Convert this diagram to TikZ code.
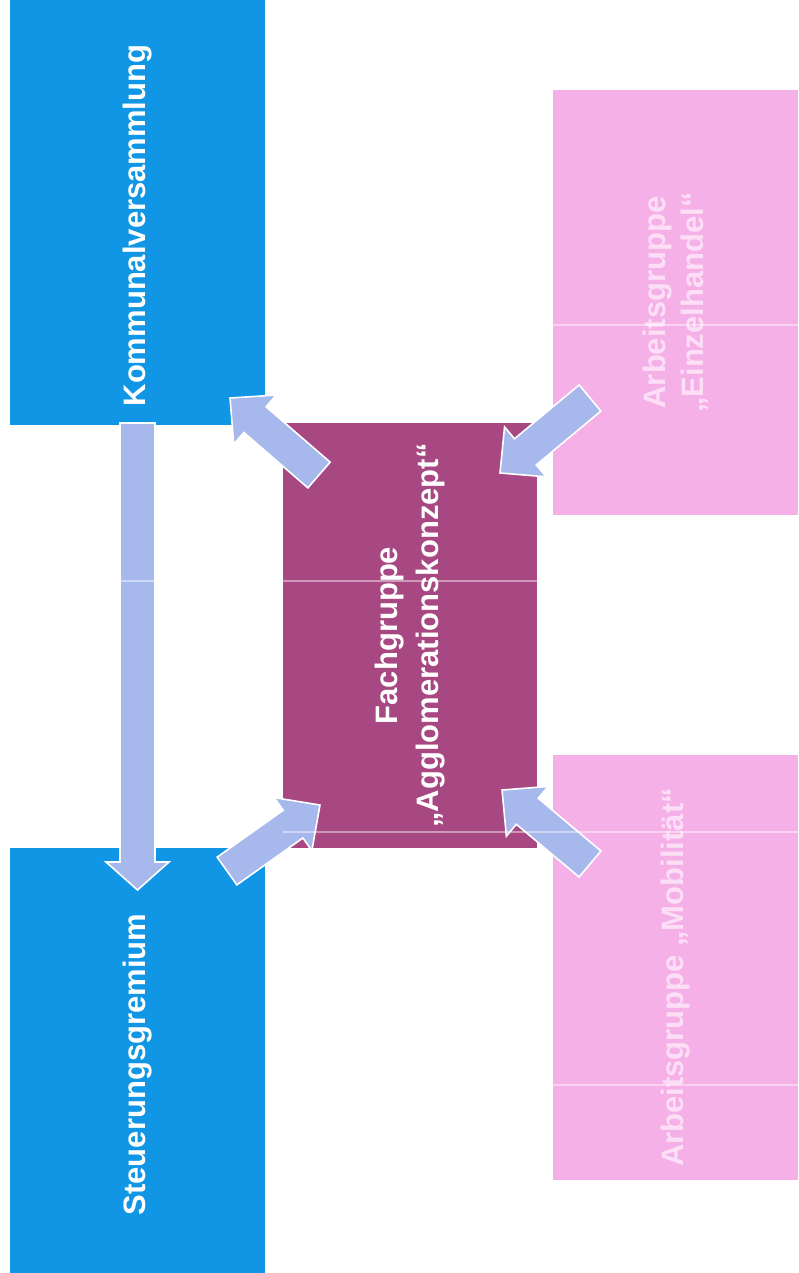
\documentclass[tikz,border=0pt]{standalone}
\usepackage{fontspec}
\setmainfont{Liberation Sans}
\usetikzlibrary{calc}
\definecolor{kblue}{RGB}{16,150,228}
\definecolor{fmag}{RGB}{168,72,130}
\definecolor{apink}{RGB}{246,176,232}
\definecolor{aarrow}{RGB}{166,184,236}
\definecolor{ptext}{RGB}{252,222,246}

\tikzset{
  box/.style={rotate=90, inner sep=0pt, align=center, text=white,
    font=\fontsize{31}{38}\selectfont\bfseries,
    minimum width=425pt},
  bluebox/.style={box, fill=kblue, minimum height=255pt},
  magbox/.style={box, fill=fmag, minimum height=254pt, font=\fontsize{31}{41}\selectfont\bfseries},
  pinkbox/.style={box, fill=apink, minimum height=245pt, text=ptext},
  barrow/.style={fill=aarrow, draw=white, line width=1.6pt, line join=miter},
  fold/.style={draw=white, opacity=0.45, line width=1.5pt}
}

\newcommand{\blockarrow}[5]{% tail, tip, shaft width, head width, head length
  \path let \p1=($(#2)-(#1)$) in \pgfextra{%
    \pgfmathsetmacro\baang{atan2(\y1,\x1)}%
    \pgfmathsetmacro\balen{veclen(\x1,\y1)}%
    \xdef\baangG{\baang}\xdef\balenG{\balen}};
  \begin{scope}[shift={(#1)}, rotate=\baangG, x=1pt, y=1pt]
    \draw[barrow] (0,-#3/2) -- ({\balenG-#5},-#3/2) -- ({\balenG-#5},-#4/2)
      -- (\balenG,0) -- ({\balenG-#5},#4/2) -- ({\balenG-#5},#3/2)
      -- (0,#3/2) -- cycle;
  \end{scope}}

\begin{document}
\begin{tikzpicture}[x=1pt, y=-1pt]
  \fill[white] (0,0) rectangle (798,1273);
  \useasboundingbox (0,0) rectangle (798,1273);

  % boxes
  \node[bluebox] (kv) at (137.5,212.5) {\hspace*{-26pt}Kommunalversammlung};
  \node[bluebox] (sg) at (137.5,1060.5) {\hspace*{-8pt}Steuerungsgremium};
  \node[magbox]  (fg) at (410,635.5) {Fachgruppe\\„Agglomerationskonzept“};
  \node[pinkbox] (ae) at (675.5,302.5) {Arbeitsgruppe\\„Einzelhandel“};
  \node[pinkbox] (am) at (675.5,967.5) {\hspace*{-20pt}Arbeitsgruppe „Mobilität“};

  % arrow end points
  \coordinate (v0) at (137.5,423);
  \coordinate (v1) at (137.5,890);
  \coordinate (a1s) at (319,475);
  \coordinate (a1e) at (230,398);
  \coordinate (a2s) at (590,398);
  \coordinate (a2e) at (500,473);
  \coordinate (a3s) at (227,871);
  \coordinate (a3e) at (320,805);
  \coordinate (a4s) at (590,864);
  \coordinate (a4e) at (502,790);

  % block arrows
  \blockarrow{v0}{v1}{35}{63}{28}
  \blockarrow{a1s}{a1e}{34}{65}{33}
  \blockarrow{a2s}{a2e}{34}{65}{33}
  \blockarrow{a3s}{a3e}{34}{65}{33}
  \blockarrow{a4s}{a4e}{34}{65}{33}

  % faint scan folds
  \draw[fold] (553,325) -- (798,325);
  \draw[fold] (0,581) -- (798,581);
  \draw[fold] (283,832) -- (798,832);
  \draw[fold] (553,1085) -- (798,1085);
\end{tikzpicture}
\end{document}
